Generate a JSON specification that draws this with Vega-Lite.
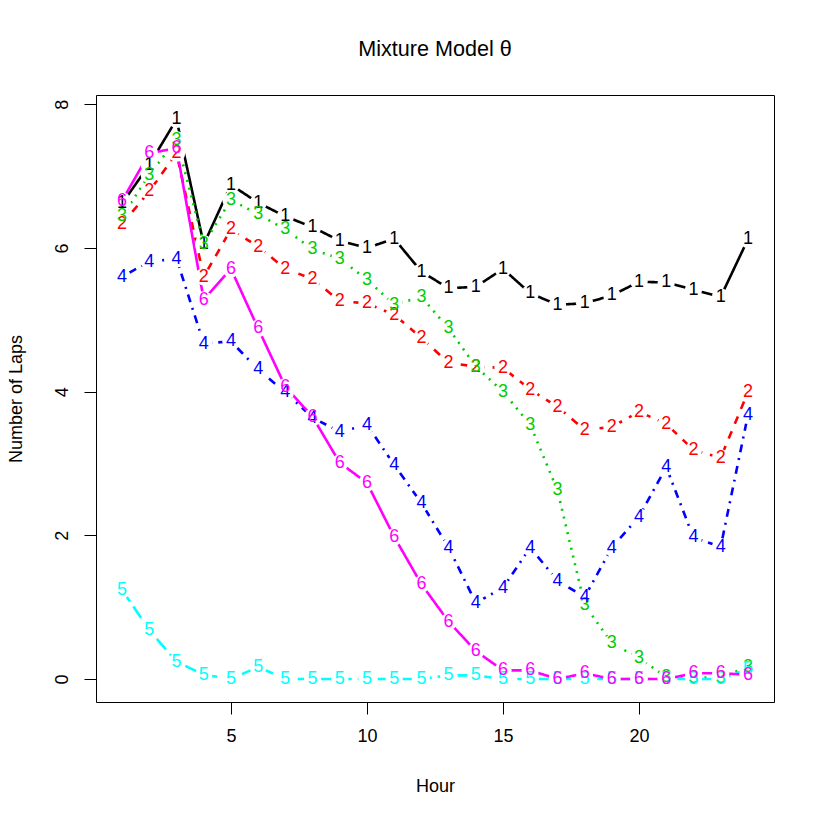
{
  "$schema": "https://vega.github.io/schema/vega-lite/v6.json",
  "width": 678,
  "height": 607,
  "autosize": {"type": "none"},
  "padding": {"left": 96, "top": 95, "right": 48, "bottom": 120},
  "title": {"text": "Mixture Model θ", "fontSize": 21.6, "fontWeight": "normal", "font": "Liberation Sans", "color": "black", "offset": 34, "anchor": "middle"},
  "config": {
    "view": {"stroke": "black", "strokeWidth": 1},
    "font": "Liberation Sans",
    "axis": {"domain": false, "grid": false, "tickColor": "black", "tickSize": 12, "tickWidth": 1, "labelColor": "black", "labelFont": "Liberation Sans", "labelFontSize": 18, "titleFont": "Liberation Sans", "titleFontSize": 18, "titleFontWeight": "normal", "titleColor": "black", "labelPadding": 13}
  },
  "data": {"values": [
    {"h":1,"s":"1","v":6.62},{"h":2,"s":"1","v":7.16},{"h":3,"s":"1","v":7.79},{"h":4,"s":"1","v":6.05},{"h":5,"s":"1","v":6.88},{"h":6,"s":"1","v":6.63},{"h":7,"s":"1","v":6.44},{"h":8,"s":"1","v":6.29},{"h":9,"s":"1","v":6.1},{"h":10,"s":"1","v":6.0},{"h":11,"s":"1","v":6.13},{"h":12,"s":"1","v":5.67},{"h":13,"s":"1","v":5.44},{"h":14,"s":"1","v":5.46},{"h":15,"s":"1","v":5.71},{"h":16,"s":"1","v":5.37},{"h":17,"s":"1","v":5.21},{"h":18,"s":"1","v":5.23},{"h":19,"s":"1","v":5.34},{"h":20,"s":"1","v":5.53},{"h":21,"s":"1","v":5.52},{"h":22,"s":"1","v":5.42},{"h":23,"s":"1","v":5.32},{"h":24,"s":"1","v":6.12},
    {"h":1,"s":"2","v":6.33},{"h":2,"s":"2","v":6.79},{"h":3,"s":"2","v":7.32},{"h":4,"s":"2","v":5.6},{"h":5,"s":"2","v":6.26},{"h":6,"s":"2","v":6.02},{"h":7,"s":"2","v":5.71},{"h":8,"s":"2","v":5.57},{"h":9,"s":"2","v":5.26},{"h":10,"s":"2","v":5.23},{"h":11,"s":"2","v":5.07},{"h":12,"s":"2","v":4.75},{"h":13,"s":"2","v":4.4},{"h":14,"s":"2","v":4.35},{"h":15,"s":"2","v":4.33},{"h":16,"s":"2","v":4.03},{"h":17,"s":"2","v":3.79},{"h":18,"s":"2","v":3.47},{"h":19,"s":"2","v":3.51},{"h":20,"s":"2","v":3.72},{"h":21,"s":"2","v":3.55},{"h":22,"s":"2","v":3.19},{"h":23,"s":"2","v":3.08},{"h":24,"s":"2","v":3.99},
    {"h":1,"s":"3","v":6.44},{"h":2,"s":"3","v":7.02},{"h":3,"s":"3","v":7.51},{"h":4,"s":"3","v":6.06},{"h":5,"s":"3","v":6.67},{"h":6,"s":"3","v":6.47},{"h":7,"s":"3","v":6.26},{"h":8,"s":"3","v":5.98},{"h":9,"s":"3","v":5.85},{"h":10,"s":"3","v":5.56},{"h":11,"s":"3","v":5.21},{"h":12,"s":"3","v":5.32},{"h":13,"s":"3","v":4.88},{"h":14,"s":"3","v":4.35},{"h":15,"s":"3","v":4.0},{"h":16,"s":"3","v":3.54},{"h":17,"s":"3","v":2.63},{"h":18,"s":"3","v":1.03},{"h":19,"s":"3","v":0.5},{"h":20,"s":"3","v":0.29},{"h":21,"s":"3","v":0.03},{"h":22,"s":"3","v":0.02},{"h":23,"s":"3","v":0.02},{"h":24,"s":"3","v":0.17},
    {"h":1,"s":"4","v":5.6},{"h":2,"s":"4","v":5.81},{"h":3,"s":"4","v":5.85},{"h":4,"s":"4","v":4.67},{"h":5,"s":"4","v":4.7},{"h":6,"s":"4","v":4.31},{"h":7,"s":"4","v":3.99},{"h":8,"s":"4","v":3.64},{"h":9,"s":"4","v":3.44},{"h":10,"s":"4","v":3.54},{"h":11,"s":"4","v":2.98},{"h":12,"s":"4","v":2.45},{"h":13,"s":"4","v":1.83},{"h":14,"s":"4","v":1.06},{"h":15,"s":"4","v":1.27},{"h":16,"s":"4","v":1.83},{"h":17,"s":"4","v":1.37},{"h":18,"s":"4","v":1.14},{"h":19,"s":"4","v":1.83},{"h":20,"s":"4","v":2.26},{"h":21,"s":"4","v":2.95},{"h":22,"s":"4","v":1.97},{"h":23,"s":"4","v":1.84},{"h":24,"s":"4","v":3.67},
    {"h":1,"s":"5","v":1.24},{"h":2,"s":"5","v":0.68},{"h":3,"s":"5","v":0.24},{"h":4,"s":"5","v":0.06},{"h":5,"s":"5","v":0.0},{"h":6,"s":"5","v":0.17},{"h":7,"s":"5","v":0.0},{"h":8,"s":"5","v":0.0},{"h":9,"s":"5","v":0.0},{"h":10,"s":"5","v":0.0},{"h":11,"s":"5","v":0.0},{"h":12,"s":"5","v":0.0},{"h":13,"s":"5","v":0.05},{"h":14,"s":"5","v":0.05},{"h":15,"s":"5","v":0.0},{"h":16,"s":"5","v":0.0},{"h":17,"s":"5","v":0.0},{"h":18,"s":"5","v":0.0},{"h":19,"s":"5","v":0.0},{"h":20,"s":"5","v":0.0},{"h":21,"s":"5","v":0.0},{"h":22,"s":"5","v":0.0},{"h":23,"s":"5","v":0.0},{"h":24,"s":"5","v":0.14},
    {"h":1,"s":"6","v":6.66},{"h":2,"s":"6","v":7.32},{"h":3,"s":"6","v":7.39},{"h":4,"s":"6","v":5.28},{"h":5,"s":"6","v":5.71},{"h":6,"s":"6","v":4.88},{"h":7,"s":"6","v":4.07},{"h":8,"s":"6","v":3.65},{"h":9,"s":"6","v":3.01},{"h":10,"s":"6","v":2.73},{"h":11,"s":"6","v":1.98},{"h":12,"s":"6","v":1.32},{"h":13,"s":"6","v":0.8},{"h":14,"s":"6","v":0.39},{"h":15,"s":"6","v":0.12},{"h":16,"s":"6","v":0.12},{"h":17,"s":"6","v":0.0},{"h":18,"s":"6","v":0.08},{"h":19,"s":"6","v":0.0},{"h":20,"s":"6","v":0.0},{"h":21,"s":"6","v":0.0},{"h":22,"s":"6","v":0.08},{"h":23,"s":"6","v":0.08},{"h":24,"s":"6","v":0.06}
  ]},
  "encoding": {
    "x": {"field": "h", "type": "quantitative", "scale": {"domain": [0.04, 24.96], "nice": false, "zero": false}, "axis": {"values": [5, 10, 15, 20], "title": "Hour", "titlePadding": 32, "labelFlush": false}},
    "y": {"field": "v", "type": "quantitative", "scale": {"domain": [-0.32, 8.13], "nice": false, "zero": false}, "axis": {"values": [0, 2, 4, 6, 8], "title": "Number of Laps", "labelAngle": -90, "labelAlign": "center", "labelBaseline": "bottom", "titlePadding": 28, "labelFlush": false}}
  },
  "layer": [
    {
      "mark": {"type": "line", "strokeWidth": 2.6, "clip": true},
      "encoding": {
        "color": {"field": "s", "type": "nominal", "scale": {"domain": ["1","2","3","4","5","6"], "range": ["#000000","#FF0000","#00CD00","#0000FF","#00FFFF","#FF00FF"]}, "legend": null},
        "strokeDash": {"field": "s", "type": "nominal", "scale": {"domain": ["1","2","3","4","5","6"], "range": [[1,0],[8,8],[2,6],[2,6,8,6],[14,6],[1,0]]}, "legend": null},
        "order": {"field": "h", "type": "quantitative"}
      }
    },
    {
      "mark": {"type": "point", "shape": "circle", "filled": true, "color": "white", "opacity": 1, "size": 300},
      "encoding": {}
    },
    {
      "mark": {"type": "text", "fontSize": 18, "font": "Liberation Sans", "align": "center", "baseline": "middle"},
      "encoding": {
        "text": {"field": "s", "type": "nominal"},
        "color": {"field": "s", "type": "nominal", "scale": {"domain": ["1","2","3","4","5","6"], "range": ["#000000","#FF0000","#00CD00","#0000FF","#00FFFF","#FF00FF"]}, "legend": null}
      }
    }
  ]
}
